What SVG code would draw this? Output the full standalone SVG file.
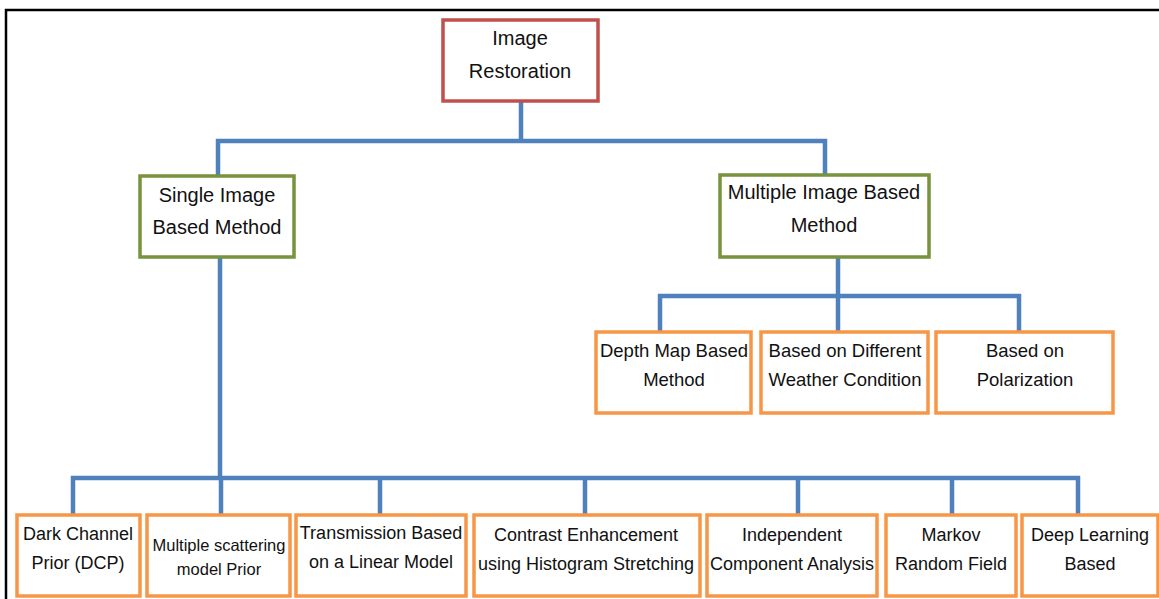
<svg xmlns="http://www.w3.org/2000/svg" width="1159" height="599" viewBox="0 0 1159 599">
<style>
.box{fill:#fff;stroke-width:3.5}
.red{stroke:#C0504D}
.green{stroke:#77933C}
.orange{stroke:#F79646}
.conn{fill:none;stroke:#4F81BD;stroke-width:4.5;stroke-linejoin:miter}
text{font-family:"Liberation Sans",Arial,sans-serif;font-size:18px;fill:#111;text-anchor:middle}
.lg{font-size:20px}
.md{font-size:18.5px}
.sm{font-size:16.5px}
</style>
<rect width="1159" height="599" fill="#fff"/>
<path d="M6,599 V10 H1159" fill="none" stroke="#000" stroke-width="2.5"/>
<g id="connectors">
<path class="conn" d="M521,101 V141 M218,176 V141 H825 V175"/>
<path class="conn" d="M838,257 V296 M660,332 V296 H1019 V332 M838,296 V332"/>
<path class="conn" d="M220,257 V478 M73,515 V478 H1078 V515 M221,478 V515 M380,478 V515 M585,478 V515 M798,478 V515 M952,478 V515"/>
</g>
<g id="n-root"><rect class="box red" x="443" y="20" width="155" height="81"/><text class="lg" x="520" y="45">Image</text><text class="lg" x="520" y="78">Restoration</text></g>
<g id="n-single"><rect class="box green" x="140" y="176" width="154" height="81"/><text class="lg" x="217" y="202">Single Image</text><text class="lg" x="217" y="234">Based Method</text></g>
<g id="n-multi"><rect class="box green" x="720" y="175" width="209" height="82"/><text class="lg" x="824" y="199">Multiple Image Based</text><text class="lg" x="824" y="232">Method</text></g>
<g id="n-depth"><rect class="box orange" x="596" y="332" width="155" height="81"/><text class="md" x="674" y="357">Depth Map Based</text><text class="md" x="674" y="386">Method</text></g>
<g id="n-weather"><rect class="box orange" x="761" y="332" width="167" height="81"/><text class="md" x="845" y="357">Based on Different</text><text class="md" x="845" y="386">Weather Condition</text></g>
<g id="n-polar"><rect class="box orange" x="936" y="332" width="177" height="81"/><text class="md" x="1025" y="357">Based on</text><text class="md" x="1025" y="386">Polarization</text></g>
<g id="n-dcp"><rect class="box orange" x="17" y="515" width="123" height="81"/><text x="78" y="540">Dark Channel</text><text x="78" y="569">Prior (DCP)</text></g>
<g id="n-mscat"><rect class="box orange" x="147" y="515" width="143" height="81"/><text class="sm" x="219" y="551">Multiple  scattering</text><text class="sm" x="219" y="575">model Prior</text></g>
<g id="n-trans"><rect class="box orange" x="296" y="515" width="170" height="81"/><text x="381" y="539">Transmission Based</text><text x="381" y="568">on a Linear Model</text></g>
<g id="n-contrast"><rect class="box orange" x="474" y="515" width="226" height="81"/><text x="586" y="541">Contrast Enhancement</text><text x="586" y="570">using Histogram Stretching</text></g>
<g id="n-ica"><rect class="box orange" x="707" y="515" width="170" height="81"/><text x="792" y="541">Independent</text><text x="792" y="570">Component Analysis</text></g>
<g id="n-mrf"><rect class="box orange" x="886" y="515" width="130" height="81"/><text x="951" y="541">Markov</text><text x="951" y="570">Random Field</text></g>
<g id="n-deep"><rect class="box orange" x="1022" y="515" width="136" height="81"/><text x="1090" y="541">Deep Learning</text><text x="1090" y="570">Based</text></g>
</svg>
